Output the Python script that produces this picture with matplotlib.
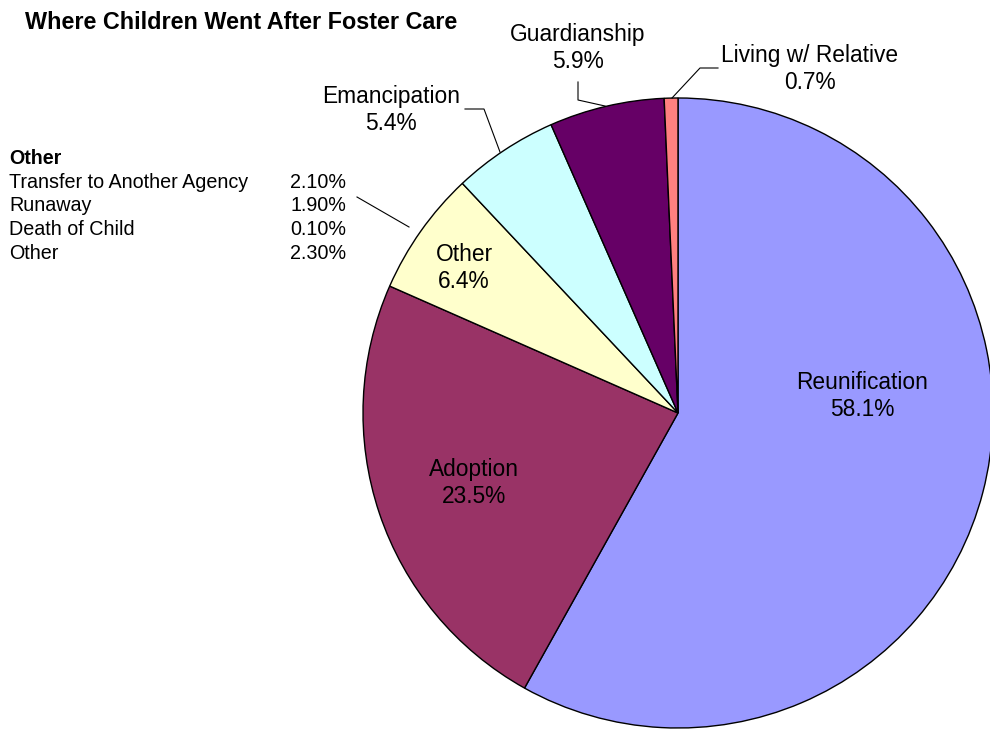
import matplotlib
matplotlib.use("Agg")
import matplotlib.pyplot as plt

categories = ["Reunification", "Adoption", "Other", "Emancipation", "Guardianship", "Living w/ Relative"]
values = [58.1, 23.5, 6.4, 5.4, 5.9, 0.7]
colors = ["#9999FF", "#993366", "#FFFFCC", "#CCFFFF", "#660066", "#FF8080"]

other_labels = ["Transfer to Another Agency", "Runaway", "Death of Child", "Other"]
other_values = [2.10, 1.90, 0.10, 2.30]

title = "Where Children Went After Foster Care"

W, H = 990, 729
FONT = ["Liberation Sans", "DejaVu Sans"]

def py(y):
    return H - y

fig = plt.figure(figsize=(W / 100, H / 100), dpi=100)
ax = fig.add_axes([0, 0, 1, 1])

ax.pie(values, colors=colors, startangle=90, counterclock=False,
       center=(678, py(413)), radius=315,
       wedgeprops=dict(edgecolor="black", linewidth=1.0))
ax.set_xlim(0, W)
ax.set_ylim(0, H)
ax.set_aspect("equal")
ax.axis("off")

# slice labels
label_pos = {
    "Reunification": (862, 396),
    "Adoption": (474, 483),
    "Other": (464, 268),
    "Emancipation": (391, 110),
    "Guardianship": (578, 48),
    "Living w/ Relative": (810, 69),
}
for cat, val in zip(categories, values):
    x, y = label_pos[cat]
    ax.text(x, py(y), f"{cat}\n{val:.1f}%", ha="center", va="center",
            fontsize=16.4, family=FONT, linespacing=1.2, color="black")

# leader lines
leaders = [
    [(357, 197), (409, 227)],
    [(465, 109), (484, 109), (500, 152)],
    [(578, 82), (578, 100), (605, 106)],
    [(718, 68), (700, 68), (672, 98)],
]
for pts in leaders:
    ax.plot([p[0] for p in pts], [py(p[1]) for p in pts], color="black", lw=0.8)

# title
ax.text(25, py(22), title, ha="left", va="center", fontsize=16.8,
        fontweight="bold", family=FONT)

# "Other" breakdown
ax.text(9, py(158), "Other", ha="left", va="center", fontsize=14.1,
        fontweight="bold", family=FONT)
for i, (lab, v) in enumerate(zip(other_labels, other_values)):
    y = 182 + 23.7 * i
    ax.text(9, py(y), lab, ha="left", va="center", fontsize=14.2, family=FONT)
    ax.text(290, py(y), f"{v:.2f}%", ha="left", va="center", fontsize=14.2, family=FONT)

fig.savefig("out.png", dpi=100)
